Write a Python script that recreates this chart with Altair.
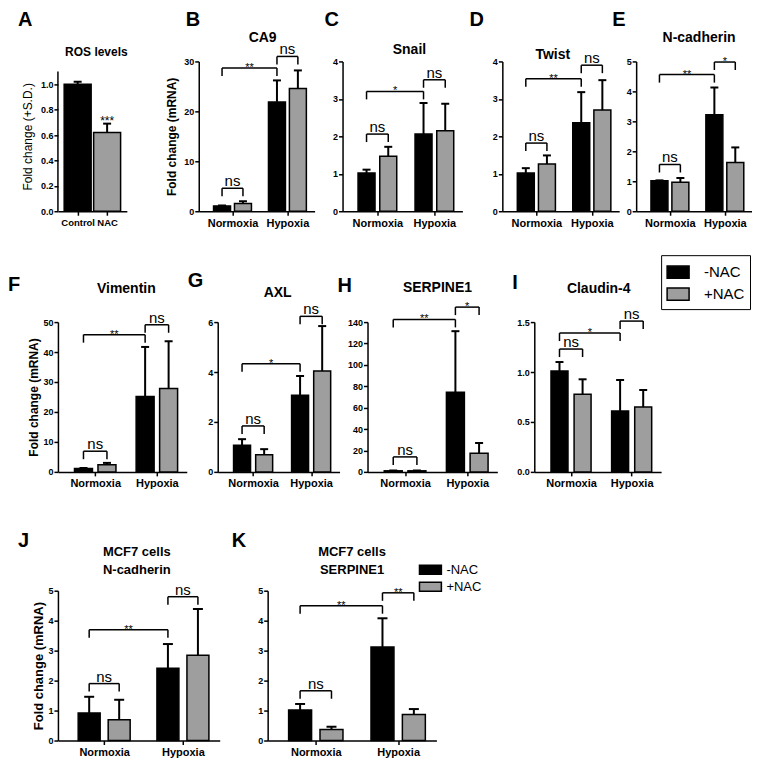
import altair as alt
import pandas as pd

FONT = "Liberation Sans"
FILL_RANGE = ["#000000", "#9e9e9e"]
PANEL_H = 150

conditions = ["Normoxia", "Hypoxia"]
treatments = ["-NAC", "+NAC"]

# ---------- Panel A : ROS levels ----------
ros_groups = ["Control", "NAC"]
ros_means = [1.00, 0.62]
ros_sds = [0.02, 0.07]
ros_sig = [(1, 0.70, "***")]
ros_ticks = [0.0, 0.2, 0.4, 0.6, 0.8, 1.0]

# bar order: Normoxia -NAC, Normoxia +NAC, Hypoxia -NAC, Hypoxia +NAC
ca9_means = [1.07, 1.54, 21.9, 24.6]
ca9_sds = [0.08, 0.46, 4.3, 3.6]
ca9_brackets = [(0, 1, 4.6, "ns"), (0, 2, 28.7, "**"), (2, 3, 31.0, "ns")]
ca9_ticks = [0, 10, 20, 30]

snail_means = [1.02, 1.47, 2.06, 2.15]
snail_sds = [0.09, 0.25, 0.83, 0.72]
snail_brackets = [(0, 1, 2.06, "ns"), (0, 2, 3.2, "*"), (2, 3, 3.51, "ns")]
snail_ticks = [0, 1, 2, 3, 4]

twist_means = [1.02, 1.26, 2.36, 2.70]
twist_sds = [0.13, 0.23, 0.82, 0.80]
twist_brackets = [(0, 1, 1.82, "ns"), (0, 2, 3.54, "**"), (2, 3, 3.90, "ns")]
twist_ticks = [0, 1, 2, 3, 4]

ncad_means = [1.02, 0.97, 3.22, 1.63]
ncad_sds = [0.01, 0.14, 0.91, 0.50]
ncad_brackets = [(0, 1, 1.56, "ns"), (0, 2, 4.56, "**"), (2, 3, 4.98, "*")]
ncad_ticks = [0, 1, 2, 3, 4, 5]

vim_means = [1.1, 2.4, 25.2, 27.8]
vim_sds = [0.2, 0.6, 16.5, 15.8]
vim_brackets = [(0, 1, 6.9, "ns"), (0, 2, 45.8, "**"), (2, 3, 49.1, "ns")]
vim_ticks = [0, 10, 20, 30, 40, 50]

axl_means = [1.07, 0.69, 3.07, 4.04]
axl_sds = [0.24, 0.22, 0.77, 1.80]
axl_brackets = [(0, 1, 1.84, "ns"), (0, 2, 4.33, "*"), (2, 3, 6.23, "ns")]
axl_ticks = [0, 2, 4, 6]

serp_means = [1.0, 1.0, 74.5, 17.5]
serp_sds = [0.3, 0.3, 57.0, 9.5]
serp_brackets = [(0, 1, 14.0, "ns"), (0, 2, 142.5, "**"), (2, 3, 154.0, "*")]
serp_ticks = [0, 20, 40, 60, 80, 100, 120, 140]

cld_means = [1.01, 0.777, 0.61, 0.65]
cld_sds = [0.09, 0.15, 0.31, 0.17]
cld_brackets = [(0, 1, 1.23, "ns"), (0, 2, 1.39, "*"), (2, 3, 1.51, "ns")]
cld_ticks = [0.0, 0.5, 1.0, 1.5]

mcf_ncad_means = [0.92, 0.69, 2.41, 2.85]
mcf_ncad_sds = [0.54, 0.67, 0.81, 1.54]
mcf_ncad_brackets = [(0, 1, 1.9, "ns"), (0, 2, 3.7, "**"), (2, 3, 4.8, "ns")]

mcf_serp_means = [1.02, 0.37, 3.12, 0.87]
mcf_serp_sds = [0.20, 0.09, 0.96, 0.18]
mcf_serp_brackets = [(0, 1, 1.66, "ns"), (0, 2, 4.5, "**"), (2, 3, 4.93, "**")]
mcf_ticks = [0, 1, 2, 3, 4, 5]

# ---------- layout of the category axis ----------
SLOT0, GROUP_STEP, XMAX = 0.875, 2.625, 5.06
grp_pos = [SLOT0 + t + GROUP_STEP * g for g in range(len(conditions)) for t in range(len(treatments))]
grp_keys = [treatments[t] for g in range(len(conditions)) for t in range(len(treatments))]
grp_centers = [SLOT0 + 0.5 + GROUP_STEP * g for g in range(len(conditions))]
grp_expr = f"datum.value < {(grp_centers[0] + grp_centers[1]) / 2} ? '{conditions[0]}' : '{conditions[1]}'"

ros_pos = [0.5, 1.5]
ros_expr = f"datum.value < 1 ? '{ros_groups[0]}' : '{ros_groups[1]}'"

RECT_PATH = "M-1,-0.55L1,-0.55L1,0.55L-1,0.55Z"
RECT_PATH_K = "M-1.33,-0.55L1.33,-0.55L1.33,0.55L-1.33,0.55Z"

legend_I = alt.Legend(title=None, orient="none", legendX=127, legendY=-67,
                      symbolType=RECT_PATH, symbolSize=484, symbolStrokeColor="black",
                      symbolStrokeWidth=1.5, symbolOpacity=1, labelFont=FONT, labelFontSize=15,
                      labelColor="black", labelOffset=14, strokeColor="black", fillColor="white",
                      padding=5, rowPadding=0)
legend_K = alt.Legend(title=None, orient="none", legendX=154, legendY=-30,
                      symbolType=RECT_PATH_K, symbolSize=272, symbolStrokeColor="black",
                      symbolStrokeWidth=1.5, symbolOpacity=1, labelFont=FONT, labelFontSize=13,
                      labelColor="black", labelOffset=7, padding=0, rowPadding=0)


def make_panel(letter, title, means, sds, brackets, ticks, fmt, lay, pos=grp_pos, keys=grp_keys,
               xticks=grp_centers, xexpr=grp_expr, xmax=XMAX, ymax=None, ytitle=None,
               legend=None, stars=None, axis_top=None):
    w = lay["w"]
    ymax = ymax if ymax is not None else ticks[-1]
    xs = alt.Scale(domain=[0, xmax], nice=False, zero=False)
    ys = alt.Scale(domain=[0, ymax], nice=False, zero=True)
    drop = ticks[-1] * 8.0 / PANEL_H

    df = pd.DataFrame({"pos": pos, "mean": means,
                       "top": [m + s for m, s in zip(means, sds)], "trt": keys})

    yaxis_kw = dict(values=ticks, tickCount=len(ticks), format=fmt, labelOverlap=False,
                    labelFlush=False, titleFontSize=lay.get("yfs", 12),
                    titleFontWeight=lay.get("yfw", "bold"), titlePadding=lay.get("tp", 3))
    yaxis_kw["title"] = ytitle if ytitle else None
    if axis_top is not None:
        yaxis_kw["domain"] = False
    xaxis = alt.Axis(values=xticks, tickCount=len(xticks), labelExpr=xexpr, title=None,
                     labelFlush=False, labelOverlap=False, labelFontSize=lay.get("xfs", 11))

    fill_kw = dict(scale=alt.Scale(domain=treatments, range=FILL_RANGE))
    fill_kw["legend"] = legend if legend is not None else None

    X = lambda f: alt.X(f, scale=xs)
    Y = lambda f: alt.Y(f, scale=ys)

    layers = []
    layers.append(alt.Chart(df).mark_bar(size=lay["bar"], stroke="black", strokeWidth=1.5).encode(
        x=alt.X("pos:Q", scale=xs, axis=xaxis),
        y=alt.Y("mean:Q", scale=ys, axis=alt.Axis(**yaxis_kw)),
        fill=alt.Fill("trt:N", **fill_kw)))
    layers.append(alt.Chart(df).mark_rule(color="black", strokeWidth=2).encode(
        x=X("pos:Q"), y=Y("mean:Q"), y2="top:Q"))
    cap = lay.get("cap", 4)
    layers.append(alt.Chart(df).mark_rule(color="black", strokeWidth=2, xOffset=-cap, x2Offset=cap).encode(
        x=X("pos:Q"), x2="pos:Q", y=Y("top:Q")))

    if axis_top is not None:
        layers.append(alt.Chart(pd.DataFrame({"lo": [0.0], "hi": [axis_top]})).mark_rule(
            color="black", strokeWidth=1.5).encode(
            x=alt.value(0), y=Y("lo:Q"), y2="hi:Q"))

    if brackets:
        hb = pd.DataFrame([{"x1": pos[i], "x2": pos[j], "level": lv,
                            "mid": (pos[i] + pos[j]) / 2, "label": lab}
                           for (i, j, lv, lab) in brackets])
        legs = pd.DataFrame([{"x": pos[k], "level": lv, "low": lv - drop}
                             for (i, j, lv, lab) in brackets for k in (i, j)])
        layers.append(alt.Chart(hb).mark_rule(color="black", strokeWidth=1.5).encode(
            x=X("x1:Q"), x2="x2:Q", y=Y("level:Q")))
        layers.append(alt.Chart(legs).mark_rule(color="black", strokeWidth=1.5).encode(
            x=X("x:Q"), y=Y("level:Q"), y2="low:Q"))
        ns = hb[hb["label"] == "ns"]
        st = hb[hb["label"] != "ns"]
        if len(ns):
            layers.append(alt.Chart(ns).mark_text(font=FONT, fontSize=15, color="black",
                                                  baseline="alphabetic", dy=-2).encode(
                x=X("mid:Q"), y=Y("level:Q"), text="label:N"))
        if len(st):
            layers.append(alt.Chart(st).mark_text(font=FONT, fontSize=11, color="black",
                                                  baseline="alphabetic", dy=3).encode(
                x=X("mid:Q"), y=Y("level:Q"), text="label:N"))
    if stars:
        sd = pd.DataFrame([{"mid": pos[i], "level": lv, "label": lab} for (i, lv, lab) in stars])
        layers.append(alt.Chart(sd).mark_text(font=FONT, fontSize=12, color="black",
                                              baseline="alphabetic", dy=3).encode(
            x=X("mid:Q"), y=Y("level:Q"), text="label:N"))

    # panel letter
    layers.append(alt.Chart(pd.DataFrame({"t": [letter]})).mark_text(
        font=FONT, fontSize=20, fontWeight="bold", color="black", align="left", baseline="top").encode(
        text="t:N", x=alt.value(lay["lx"]), y=alt.value(lay["ly"])))
    # panel title
    layers.append(alt.Chart(pd.DataFrame({"t": [title]})).mark_text(
        font=FONT, fontSize=lay.get("tfs", 14), fontWeight="bold", color="black", align="center",
        baseline="top", lineBreak="\n", lineHeight=18).encode(
        text="t:N", x=alt.value(w / 2 + lay["tdx"]), y=alt.value(lay["ty"])))

    return alt.layer(*layers).properties(width=w, height=PANEL_H)


def spacer(w, h):
    return alt.Chart(pd.DataFrame({"z": [0, 1]})).mark_point(size=1, opacity=0).encode(
        x=alt.X("z:Q", axis=None, scale=alt.Scale(domain=[0, 1], nice=False)),
        y=alt.Y("z:Q", axis=None, scale=alt.Scale(domain=[0, 1], nice=False))
    ).properties(width=w, height=h)


def row(panels, gaps):
    items = []
    for i, p in enumerate(panels):
        if i:
            items.append(spacer(gaps[i - 1], PANEL_H))
        items.append(p)
    return alt.hconcat(*items, spacing=0, bounds="flush").resolve_scale(
        fill="independent").resolve_legend(fill="independent")


pA = make_panel("A", "ROS levels", ros_means, ros_sds, [], ros_ticks, ".1f",
                dict(w=69, bar=27, lx=-40, ly=-51, ty=-14, tdx=4, tfs=12, tp=6, yfs=12, yfw="normal",
                     cap=4, xfs=9.5),
                pos=ros_pos, keys=treatments, xticks=ros_pos, xexpr=ros_expr, xmax=2,
                ymax=1.18, ytitle="Fold change (+S.D.)", stars=ros_sig, axis_top=1.1)
pB = make_panel("B", "CA9", ca9_means, ca9_sds, ca9_brackets, ca9_ticks, "d",
                dict(w=116, bar=17, lx=-13, ly=-51, ty=-30, tdx=6, tp=5), ytitle="Fold change (mRNA)")
pC = make_panel("C", "Snail", snail_means, snail_sds, snail_brackets, snail_ticks, "d",
                dict(w=120, bar=17, lx=-18, ly=-51, ty=-18, tdx=7))
pD = make_panel("D", "Twist", twist_means, twist_sds, twist_brackets, twist_ticks, "d",
                dict(w=117, bar=17, lx=-33, ly=-51, ty=-13, tdx=-8))
pE = make_panel("E", "N-cadherin", ncad_means, ncad_sds, ncad_brackets, ncad_ticks, "d",
                dict(w=116, bar=17, lx=-24, ly=-51, ty=-30, tdx=5))

pF = make_panel("F", "Vimentin", vim_means, vim_sds, vim_brackets, vim_ticks, "d",
                dict(w=129, bar=18, lx=-50, ly=-47, ty=-40, tdx=4, tp=2), ytitle="Fold change (mRNA)")
pG = make_panel("G", "AXL", axl_means, axl_sds, axl_brackets, axl_ticks, "d",
                dict(w=122, bar=17, lx=-30, ly=-51, ty=-36, tdx=-1))
pH = make_panel("H", "SERPINE1", serp_means, serp_sds, serp_brackets, serp_ticks, "d",
                dict(w=130, bar=18, lx=-30, ly=-46, ty=-41, tdx=5))
pI = make_panel("I", "Claudin-4", cld_means, cld_sds, cld_brackets, cld_ticks, ".1f",
                dict(w=127, bar=17, lx=-22, ly=-49, ty=-40, tdx=1), legend=legend_I)

pJ = make_panel("J", "MCF7 cells\nN-cadherin", mcf_ncad_means, mcf_ncad_sds, mcf_ncad_brackets,
                mcf_ticks, "d",
                dict(w=162, bar=22, lx=-40, ly=-60, ty=-45, tdx=-2, tfs=13, tp=2, yfs=13, cap=5),
                ytitle="Fold change (mRNA)")
pK = make_panel("K", "MCF7 cells\nSERPINE1", mcf_serp_means, mcf_serp_sds, mcf_serp_brackets,
                mcf_ticks, "d",
                dict(w=169, bar=23, lx=-36, ly=-60, ty=-45, tdx=0, tfs=13, cap=5), legend=legend_K)

row1 = row([pA, pB, pC, pD, pE], [72, 28, 40, 17])
row2 = row([pF, pG, pH, pI], [31, 28, 37])
row3 = row([pJ, pK], [48])

chart = alt.vconcat(row1, spacer(1, 24), row2, spacer(1, 40), row3, spacing=0).resolve_scale(
    fill="independent").resolve_legend(fill="independent").properties(
    padding={"left": 0, "top": 2, "right": 0, "bottom": 0}).configure_view(
    stroke=None).configure_axis(
    grid=False, domainColor="black", domainWidth=1.5, tickColor="black", tickWidth=1.5, tickSize=4,
    labelColor="black", titleColor="black", labelFont=FONT, titleFont=FONT, labelPadding=1,
    labelOverlap=False, labelFlush=False
).configure_axisY(labelFontSize=9, labelFontWeight="bold").configure_axisX(
    labelFontWeight="bold", labelPadding=2)

chart.save("out.html", embed_options={"renderer": "svg", "actions": False})
